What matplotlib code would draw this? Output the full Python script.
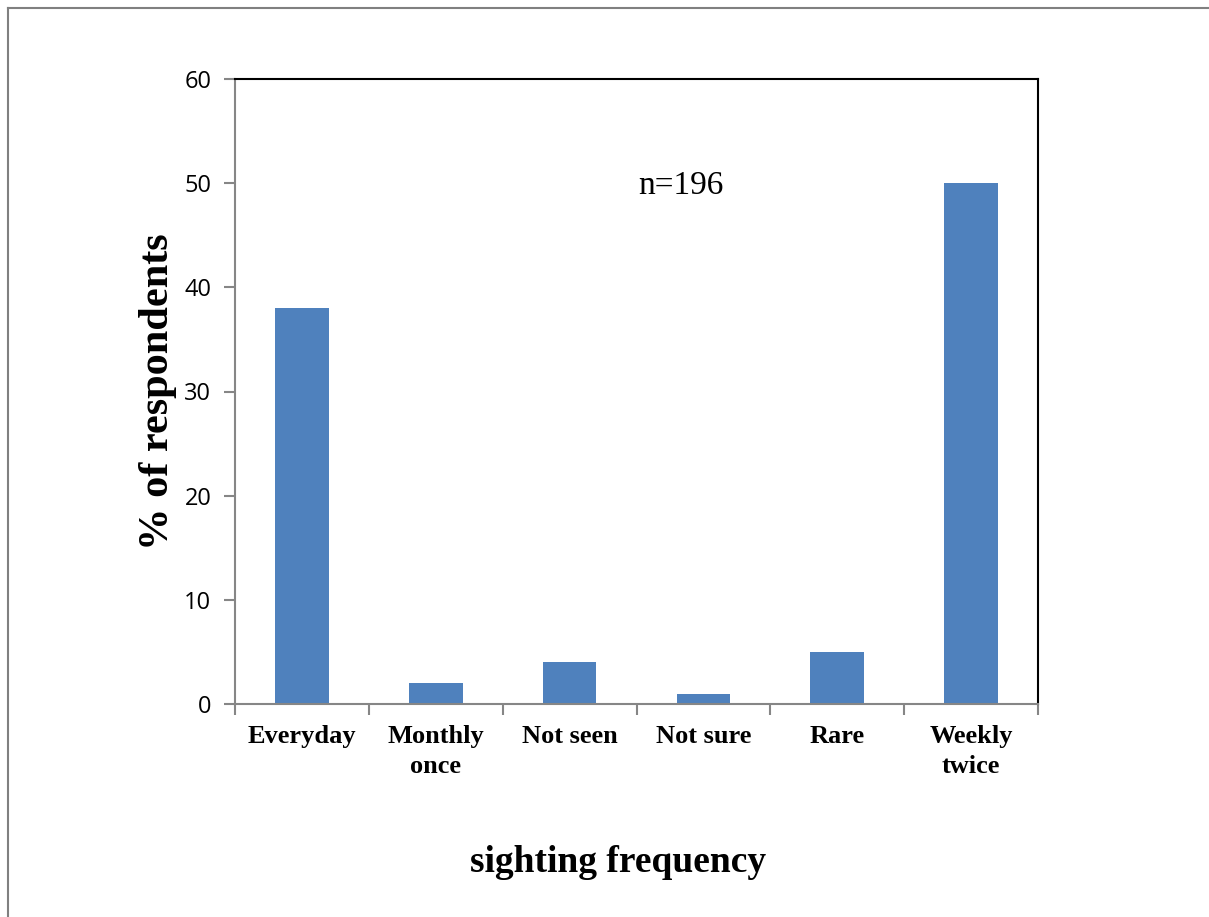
import numpy as np
import matplotlib
matplotlib.use('Agg')
import matplotlib.pyplot as plt
from matplotlib.lines import Line2D
from matplotlib.ticker import FixedLocator, NullFormatter

categories = ['Everyday', 'Monthly\nonce', 'Not seen', 'Not sure', 'Rare', 'Weekly\ntwice']
percent = [38, 2, 4, 1, 5, 50]
yticks = [0, 10, 20, 30, 40, 50, 60]

W, H = 1209, 917
fig = plt.figure(figsize=(W / 100, H / 100), dpi=100)
ax = fig.add_axes([235 / W, 1 - 704 / H, (1038 - 235) / W, (704 - 79) / H])

x = np.arange(len(categories))
ax.bar(x, percent, width=0.4, color='#4f81bd', zorder=2)

ax.set_xlim(-0.5, len(categories) - 0.5)
ax.set_ylim(0, 60)
ax.set_yticks(yticks)
ax.set_yticklabels([str(v) for v in yticks], fontsize=17, family='Open Sans')

# category labels centred under bars, ticks on category boundaries
ax.set_xticks(x)
ax.set_xticklabels(categories, fontsize=19, fontweight='bold',
                   family='Liberation Serif', linespacing=1.4)
ax.tick_params(axis='x', length=0, pad=15)
ax.xaxis.set_minor_locator(FixedLocator(np.arange(-0.5, len(categories), 1)))
ax.xaxis.set_minor_formatter(NullFormatter())
ax.tick_params(axis='x', which='minor', length=8, color='#868686', width=1.5)
ax.tick_params(axis='y', length=8, color='#868686', width=1.5, pad=9)

for side in ['left', 'bottom']:
    ax.spines[side].set_color('#868686')
    ax.spines[side].set_linewidth(1.5)
for side in ['top', 'right']:
    ax.spines[side].set_color('black')
    ax.spines[side].set_linewidth(1.5)

ax.text(2.83, 49.8, 'n=196', fontsize=24, family='Liberation Serif',
        ha='center', va='center')

fig.text(618 / W, 1 - 862 / H, 'sighting frequency', fontsize=27,
         fontweight='bold', family='Liberation Serif', ha='center', va='center')
fig.text(158 / W, 1 - 392 / H, '% of respondents', fontsize=30.5,
         fontweight='bold', family='Liberation Serif', rotation=90,
         ha='center', va='center')

# outer frame lines (top and left)
fig.add_artist(Line2D([8 / W, 1], [1 - 8 / H, 1 - 8 / H], color='#808080', lw=1.5))
fig.add_artist(Line2D([8 / W, 8 / W], [0, 1 - 8 / H], color='#808080', lw=1.5))

fig.savefig('out.png', dpi=100)
